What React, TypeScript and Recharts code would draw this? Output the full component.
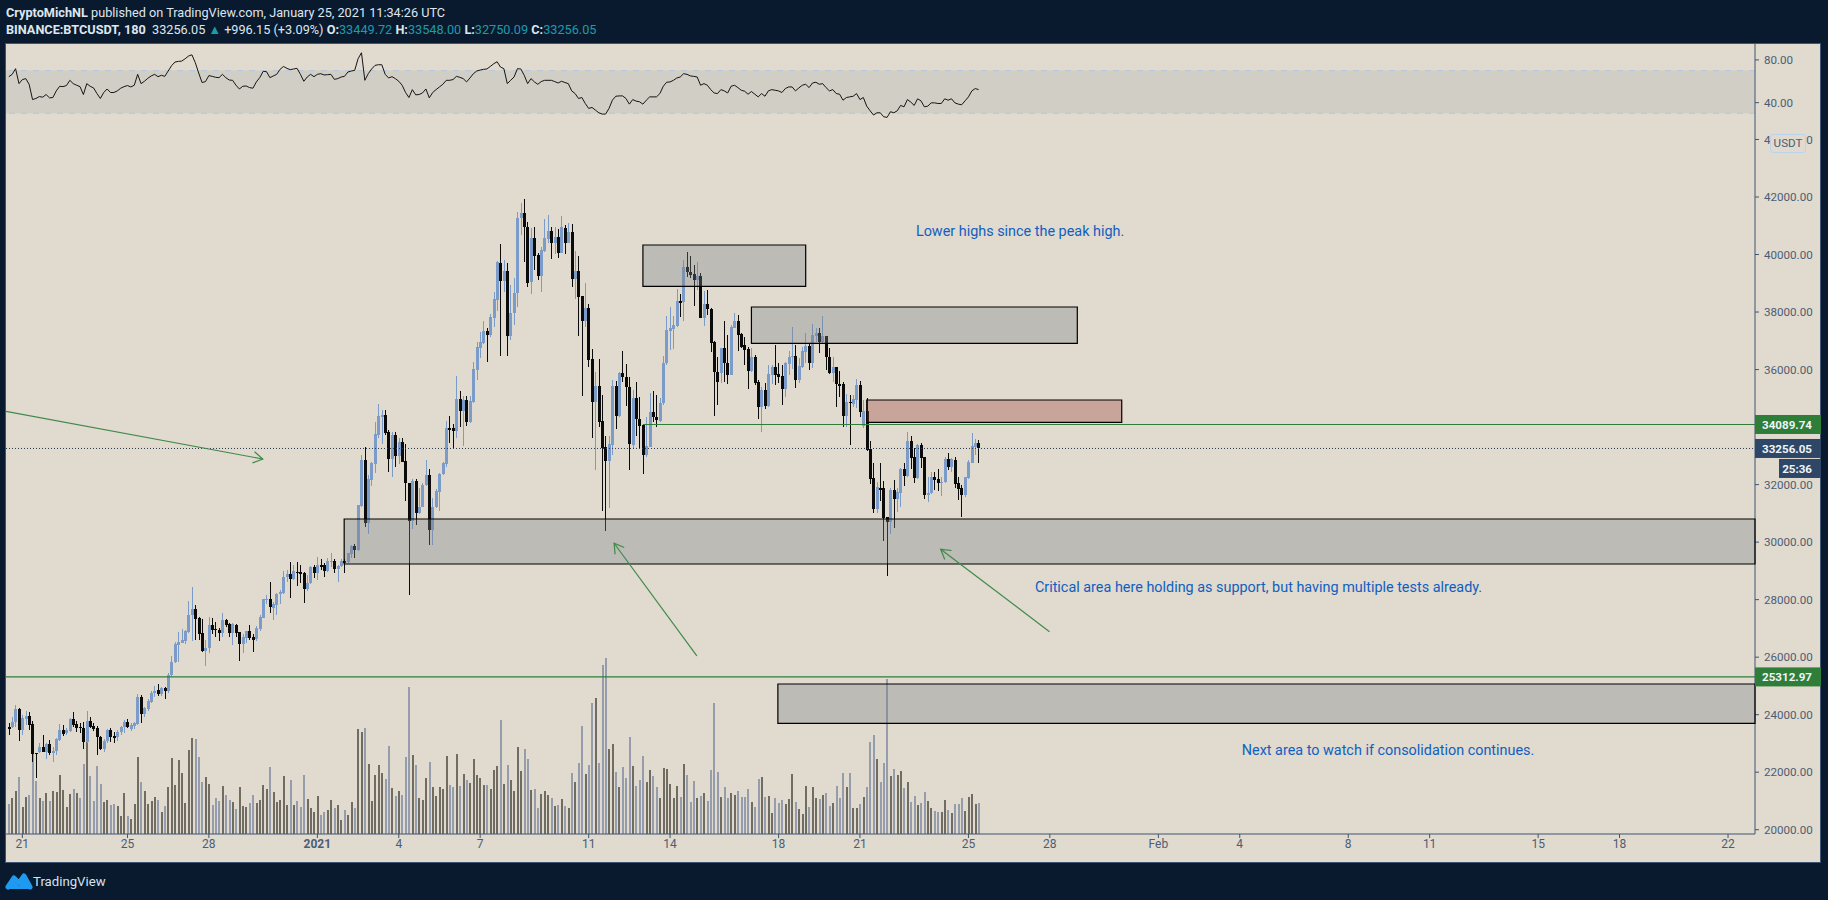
import React from 'react';
import { ComposedChart, Bar, Line, XAxis, YAxis, ReferenceArea, ReferenceLine, ReferenceDot } from 'recharts';

// --- OHLC, 3h candles ---
const opens = [
  23570,23560,23746,24210,23467,23862,23954,23676,22680,22714,
  22876,22714,22981,22656,22737,23120,23467,23352,23444,23850,
  23676,23584,23525,23062,23780,23607,23549,23236,22818,23085,
  23467,23250,23236,23386,23560,23734,23514,23607,23676,24627,
  24024,24186,24453,24742,24858,24719,24916,24835,25380,25832,
  26423,26504,26562,26887,27466,27663,27350,26829,26203,26307,
  27118,26980,26945,26840,27292,27153,26840,27130,26875,26458,
  26667,26910,26713,26631,26988,27376,27995,28027,27717,27810,
  28183,28229,28799,28892,28717,28973,28950,28915,28384,28567,
  29135,28938,29204,29204,28995,29319,29343,29065,29170,29343,
  29320,29587,29865,29726,31256,32855,30676,32160,32716,33724,
  34339,34420,33829,32901,33724,33006,33481,32820,32044,30746,
  32125,31024,31233,31986,32322,30421,31210,31754,32369,32716,
  33956,33968,33875,34964,34559,34941,34188,34884,35984,36749,
  36923,37340,37201,37804,38418,39716,39091,39427,37178,37955,
  38650,41258,41432,40968,39056,40562,39983,39253,40134,40539,
  40806,40389,40597,40064,40933,40412,40771,39160,39427,38557,
  37700,38140,36367,34883,35428,34211,33296,32832,33377,35428,
  34385,35880,35752,35405,33377,34999,34269,34072,33029,33319,
  34513,34362,34223,34825,36216,37352,37410,37526,38383,38360,
  39554,39403,39311,39114,39253,37804,38279,38094,36958,35926,
  35891,36738,36216,35822,37456,37688,37225,36854,36715,35962,
  36426,35556,34710,35290,34733,35823,36078,35846,35777,35324,
  36194,36426,36472,35637,36101,36623,36820,36217,37167,37260,
  36947,37167,36425,35893,36078,35487,35487,34397,34873,34803,
  34942,35464,34030,34559,33238,32218,31152,31894,31871,30863,
  30711,31813,31500,31720,32543,32299,33516,32949,32218,33377,
  32949,31639,31697,32265,32183,32068,32102,32879,32624,32856,
  32044,31894,31639,32230,32763,33320,33449.72,
];
const highs = [
  23700,23930,24337,24244,23989,24140,24082,23769,22680,23004,
  23294,23027,23120,22888,23178,23665,23641,23525,23885,24082,
  23792,23700,23757,24128,23931,23700,23607,23259,23143,23502,
  23525,23410,23467,23607,23815,23850,23700,23746,24708,24685,
  24279,24534,24835,24997,25055,24974,24951,25461,26052,26516,
  26875,26968,26945,27953,28428,27802,27408,27327,26597,27408,
  27350,27211,27002,27524,27327,27176,27176,27153,26887,26805,
  26921,27118,26805,27097,27453,28027,28152,28617,27919,28229,
  28338,29005,29030,29297,29204,29297,29204,28973,28857,29170,
  29204,29471,29413,29262,29436,29633,29413,29204,29401,29401,
  29633,29900,29934,31290,33029,33296,32334,32798,34188,34802,
  34594,34594,33898,33817,33840,33608,33608,33411,32067,32183,
  32183,31893,32044,32855,32531,31522,31835,32391,32798,34211,
  34385,34095,35776,35254,35080,35080,35080,36274,36970,37317,
  37700,37456,37931,38708,39774,40354,39809,39693,38940,39172,
  41490,41803,41918,41142,40910,40945,40041,40273,41223,41374,
  40968,40968,40875,41339,41026,41084,41049,40122,39948,38557,
  39000,38279,36703,35903,36367,35115,33690,33690,35637,35614,
  35926,36645,36181,35753,35289,35556,35034,34095,34362,35173,
  35254,35115,35000,36483,37862,38186,37862,38789,38627,39809,
  40099,39960,39635,39751,39346,38743,38766,38128,37005,36448,
  36749,37688,37201,37549,37955,37897,37260,37143,36796,36738,
  36507,35637,35382,35545,36159,36159,36854,36217,36159,36275,
  36646,37469,36854,36391,36797,37283,36912,37585,37434,37434,
  37863,37167,36738,36425,36078,35950,35580,35139,35116,35116,
  35661,35603,34942,35000,33517,32763,32102,32740,32137,30885,
  31871,32160,31871,32566,32763,33841,33690,33261,33412,33459,
  32949,32276,32450,32450,32543,32276,32972,33088,32914,32948,
  32276,31987,32276,32856,33806,33575,33548,
];
const lows = [
  23290,23525,23560,23096,23294,23641,23467,22366,21810,22656,
  22714,22448,22598,22366,22598,23096,23259,23294,23410,23560,
  23386,23352,22818,23004,23525,23444,22598,22772,22714,23004,
  23062,23004,23096,23294,23375,23525,23444,23491,23641,23700,
  23908,24140,24418,24627,24650,24650,24557,24742,25322,25786,
  25843,26481,26446,26852,26574,26597,26597,26191,25693,26133,
  26805,26713,26562,26713,27060,26713,26423,26713,25878,26156,
  26481,26597,26191,26569,26910,27345,27841,27531,27298,27453,
  27841,28183,28625,28074,28683,28462,28590,27872,28307,28544,
  28741,28683,29030,28799,28973,29146,28915,28625,29123,28938,
  29285,29459,29459,29703,31233,30537,30282,31951,32391,33608,
  33411,33724,32449,32252,32600,32716,32797,31441,28150,30445,
  30595,30978,31210,31951,29900,29900,31175,31094,32334,32600,
  33434,33261,33608,33991,33342,34037,34153,34826,35637,36413,
  36888,36274,37143,37491,38036,36483,38708,36483,37027,37549,
  38186,40678,39751,38882,38627,39461,39114,38708,40099,40389,
  39844,40018,39890,40041,40018,40389,38882,38441,37167,35092,
  37491,36100,33608,32508,34014,31093,30398,31175,33029,33921,
  34362,35567,34733,32508,33261,33690,33261,32368,32971,33295,
  34188,34014,34188,34767,36158,36680,36703,37491,37839,37700,
  39206,39172,38221,38766,37781,37514,37897,36622,34385,34767,
  35544,35579,35498,35799,37433,36657,36738,36158,35324,35927,
  35463,34270,33841,34617,34710,35498,35463,35545,34768,35058,
  35811,36008,35348,35522,36043,36217,35985,36043,36970,36588,
  36912,35985,35846,35579,34710,35058,33992,34015,33377,34687,
  34652,34362,33957,33180,32010,31002,31025,31430,30051,28822,
  30283,30503,31060,31233,31952,32276,32543,32045,32195,32589,
  31500,31384,31674,31813,31790,31616,32068,32508,32450,31871,
  31465,30874,31581,32207,32740,33030,32750.09,
];
const closes = [
  23550,23746,24198,23467,23885,23954,23641,22633,22656,22876,
  22714,22981,22656,22737,23155,23456,23328,23467,23862,23641,
  23525,23525,23062,23780,23584,23491,23236,22818,23085,23467,
  23236,23235,23410,23584,23734,23584,23641,23711,24603,24024,
  24232,24487,24742,24835,24719,24916,24835,25380,25832,26458,
  26516,26597,26910,27466,27663,27339,26805,26203,26319,27118,
  26945,26956,26852,27292,27130,26840,27142,26852,26469,26690,
  26898,26655,26597,27019,27406,28027,28027,27733,27841,28183,
  28276,28803,28892,28717,28995,28938,28915,28384,28567,29135,
  28938,29204,29170,28995,29343,29354,29065,29181,29343,29320,
  29610,29865,29726,31290,32855,30676,32194,32739,33759,34385,
  34420,33806,32901,33724,33006,33492,32797,32044,30746,32125,
  31024,31233,31986,32322,30421,31210,31777,32369,32739,33956,
  33933,33875,34964,34559,34941,34188,34895,36008,36772,36946,
  37340,37201,37839,38441,39751,39091,39438,37178,37955,38650,
  41258,41432,40968,39021,40562,39960,39253,40157,40562,40806,
  40389,40597,40064,40945,40412,40794,39160,39427,38534,37700,
  38140,36332,34883,35428,34188,33261,32832,33411,35428,34397,
  35868,35752,35405,33411,34999,34269,34037,33029,33342,34513,
  34362,34246,34825,36216,37375,37433,37549,38383,38360,39554,
  39403,39288,39114,39253,37804,38279,38094,36935,35926,35579,
  36738,36216,35822,37491,37688,37201,36796,36680,35961,36449,
  35545,34710,35290,34733,35846,36078,35811,35730,35324,36217,
  36449,36472,35637,36124,36646,36820,36217,37202,37260,36947,
  37167,36425,35869,36078,35487,35464,34397,34861,34849,34977,
  35464,34536,34570,33204,32195,31152,31929,31813,30828,30711,
  31813,31500,31755,32543,32299,33516,32937,32242,33377,32937,
  31639,31720,32276,32160,32068,32102,32891,32613,32879,32021,
  31848,31639,32253,32775,33343,33435,33256.05,
];
const volumes = [
  91,109,130,172,82,112,118,243,160,109,
  100,124,98,130,127,178,131,82,121,136,
  124,109,211,283,173,100,203,151,97,103,
  88,91,85,55,124,55,46,91,232,157,
  130,91,100,112,103,67,85,142,229,146,
  223,183,94,253,289,286,232,157,172,151,
  88,109,100,145,118,103,97,76,142,85,
  82,94,118,94,103,148,136,202,127,97,
  103,175,88,163,88,100,82,178,106,79,
  67,115,58,67,73,103,79,88,43,73,
  58,97,79,316,307,319,211,100,178,208,
  184,166,265,139,115,130,118,232,442,238,
  208,109,103,169,217,142,115,142,136,235,
  148,142,241,145,181,163,154,226,178,169,
  148,148,136,193,205,343,151,208,163,130,
  262,190,256,226,133,136,79,121,130,118,
  109,85,88,106,85,79,184,157,214,325,
  181,208,394,409,214,508,529,256,271,187,
  142,202,169,292,205,145,163,235,157,193,
  175,142,109,199,196,151,109,145,112,211,
  178,97,160,109,115,124,100,193,394,187,
  112,142,109,124,118,130,112,112,136,97,
  82,166,172,112,115,64,109,94,103,91,
  106,181,97,76,61,145,82,142,109,106,
  118,124,85,94,145,109,184,142,184,79,
  79,91,112,142,277,298,226,157,214,466,
  175,196,178,190,139,157,97,115,88,94,
  127,100,79,70,67,67,103,73,64,91,
  91,109,70,112,121,91,94,
];
// 1 = lighter bar, 0 = dark bar
const volumeLight = [
  1,0,0,1,0,0,1,1,1,0, 1,0,1,0,0,0,0,0,0,1,
  0,1,1,0,1,1,1,1,0,0, 1,1,0,0,0,1,0,0,0,1,
  0,0,0,0,1,0,1,0,0,0, 0,0,0,0,0,1,1,1,0,0,
  1,1,1,0,1,1,0,1,0,0, 0,1,1,0,0,0,0,1,0,0,
  0,0,0,1,0,1,1,1,0,0, 0,0,1,1,0,0,1,0,0,1,
  0,0,1,0,0,1,0,0,0,0, 0,1,1,0,1,0,1,1,1,0,
  1,0,0,0,1,0,0,0,0,0, 1,1,0,1,0,1,0,0,0,0,
  0,1,0,0,0,1,0,1,0,0, 0,0,1,1,0,1,1,0,0,0,
  1,0,1,0,1,0,1,0,1,1, 0,1,1,0,1,1,1,0,0,1,
  0,1,1,1,0,1,1,1,0,0, 1,1,0,0,0,0,0,0,1,0,
  1,1,1,0,1,0,1,1,1,1, 0,1,1,0,0,1,1,1,1,0,
  1,1,0,1,0,0,1,1,1,0, 0,0,1,0,0,0,1,0,0,1,
  0,1,1,0,1,1,1,0,1,0, 0,1,0,1,1,1,0,1,1,1,
  0,1,0,0,1,0,1,1,0,1, 1,0,0,1,1,0,0,1,0,1,
  1,1,0,0,0,0,1,
];
const rsi = [
  64.3,66.5,71.8,57.8,61.6,62.5,57.2,42.9,43.9,45.7,45.1,47.6,44.5,44.8,51.0,55.3,55.0,56.0,60.9,57.8,
  56.3,55.0,47.6,57.8,55.3,53.8,48.5,43.9,49.5,52.8,49.5,49.5,51.0,53.5,55.0,56.0,54.7,56.3,66.5,57.8,
  60.0,62.8,65.0,66.5,64.3,65.6,64.6,69.6,74.6,78.0,78.6,78.9,81.1,83.6,84.8,77.4,67.7,58.8,59.7,65.3,
  64.6,63.7,63.4,66.5,63.4,61.2,60.9,56.3,52.8,55.3,55.6,54.1,53.5,59.4,63.4,69.3,69.0,63.4,65.0,66.5,
  71.2,73.9,72.1,70.9,71.5,72.1,66.5,60.0,64.0,66.5,64.3,66.5,67.1,65.9,66.2,66.5,61.8,62.5,64.0,64.6,
  68.7,69.6,70.2,81.1,86.7,60.9,67.1,71.5,74.9,75.5,75.5,66.5,63.1,64.3,62.5,60.0,56.3,49.5,44.8,52.2,
  47.3,47.6,49.1,52.8,44.5,49.5,52.2,54.7,57.2,60.9,60.9,61.6,64.6,63.7,62.5,59.4,63.1,67.1,69.6,70.5,
  71.2,71.5,73.9,76.4,78.3,73.3,71.8,57.8,60.9,64.0,71.8,71.5,65.6,57.8,62.5,59.4,57.2,59.7,60.9,60.9,
  60.9,59.7,58.4,60.0,58.8,57.8,51.0,48.5,43.9,44.8,39.2,34.6,35.5,33.0,30.5,29.3,29.3,34.6,42.3,46.0,
  46.3,46.3,43.9,38.6,42.9,41.4,40.8,38.6,42.3,45.4,45.4,45.4,48.5,55.3,59.1,59.4,60.9,63.1,64.0,67.1,
  66.5,65.0,64.6,64.0,56.3,57.8,56.3,52.2,49.1,48.5,52.2,51.0,49.1,55.3,56.3,54.1,51.6,50.7,47.9,50.4,
  47.9,45.4,48.5,46.0,51.0,52.2,51.6,51.0,49.5,53.2,54.7,54.7,51.0,53.8,56.3,57.2,54.1,58.4,59.1,57.2,
  57.8,54.1,51.0,52.2,48.5,47.9,42.3,44.8,45.4,46.0,48.5,42.9,44.8,36.7,32.4,28.4,30.5,30.5,26.8,26.2,
  31.5,30.5,32.4,37.4,36.1,42.9,40.5,37.4,43.6,41.7,36.1,36.7,39.8,39.8,39.2,39.2,43.6,42.3,43.6,39.8,
  38.6,38.0,41.7,45.4,51.0,53.2,52.2,
];

// the 34000 label is hidden behind the level badge in the original, so it is left out
const priceTicks = [20000,22000,24000,26000,28000,30000,32000,36000,38000,40000,42000,44000];
const rsiTicks = [40, 80];
const timeTicks = [4,35,59,91,115,139,171,195,227,251,283,307,339,363,395,419,451,475,507];
const timeLabels = ['21','25','28','2021','4','7','11','14','18','21','25','28','Feb','4','8','11','15','18','22'];

const LAST_PRICE = 33256.05;
const LEVEL_HIGH = 34089.74;
const LEVEL_LOW = 25312.97;

const X_DOMAIN: [number, number] = [-0.826, 514.95];
const PRICE_DOMAIN: [number, number] = [19851, 44434];
const VOLUME_DOMAIN: [number, number] = [0, 2121];
const RSI_DOMAIN: [number, number] = [17.2, 94.9];

const candles = opens.map((o, i) => ({
  i,
  open: o,
  high: highs[i],
  low: lows[i],
  close: closes[i],
  range: [lows[i], highs[i]],
  volume: volumes[i],
  light: volumeLight[i],
  rsi: rsi[i],
}));

const FONT = 'Roboto, sans-serif';
const NAVY = '#0a1a2e';
const PAPER = '#e0dacf';
const AXIS = '#3f5572';
const TICK = '#4d5d74';
const GREEN = '#2e7d38';
const NOTE = '#1060c0';

const CandleShape = (props: any) => {
  const { x, y, width, height, payload } = props;
  const span = payload.high - payload.low || 1;
  const top = Math.max(payload.open, payload.close);
  const bottom = Math.min(payload.open, payload.close);
  const up = payload.close >= payload.open;
  const color = up ? '#7b9cc9' : '#0b0b0b';
  const cx = Math.round(x + width / 2);
  const bodyTop = y + ((payload.high - top) / span) * height;
  const bodyH = Math.max(((top - bottom) / span) * height, 1.5);
  return (
    <g shapeRendering="crispEdges">
      <rect x={cx} y={y} width={1} height={height} fill={color} />
      <rect x={cx - 1} y={bodyTop} width={3} height={bodyH} fill={color} />
    </g>
  );
};

const VolumeShape = (props: any) => {
  const { x, y, width, height, payload } = props;
  return (
    <rect
      x={Math.round(x)}
      y={y}
      width={width}
      height={height}
      shapeRendering="crispEdges"
      fill={payload.light ? '#959cab' : '#716c62'}
    />
  );
};

const TimeTick = (props: any) => {
  const { x, y, payload } = props;
  const label = timeLabels[timeTicks.indexOf(payload.value)];
  return (
    <text x={x} y={y + 8} textAnchor="middle" fontFamily={FONT} fontSize={12} fill={TICK} fontWeight={label === '2021' ? 700 : 400}>
      {label}
    </text>
  );
};

// open arrow: shaft plus two short strokes at the second end
const ArrowShape = (props: any) => {
  const { x1, y1, x2, y2 } = props;
  const a = Math.atan2(y2 - y1, x2 - x1);
  const len = 11;
  const head = `M${x2 + len * Math.cos(a + 2.6)},${y2 + len * Math.sin(a + 2.6)} L${x2},${y2} L${x2 + len * Math.cos(a - 2.6)},${y2 + len * Math.sin(a - 2.6)}`;
  return (
    <g fill="none" stroke="#3f8a4a" strokeWidth={1.2}>
      <line x1={x1} y1={y1} x2={x2} y2={y2} />
      <path d={head} />
    </g>
  );
};

const Badge = ({ x, y, w, fill, text }: any) => (
  <g>
    <rect x={x} y={y - 9.5} width={w} height={19} fill={fill} />
    <text x={x + w - 9} y={y + 4.5} textAnchor="end" fontFamily={FONT} fontSize={11.6} fontWeight={700} fill="#eef4f8">
      {text}
    </text>
  </g>
);

const LevelShape = (props: any) => {
  const { x1, y1, x2, y2, text } = props;
  return (
    <g>
      <line x1={x1} y1={y1} x2={x2} y2={y2} stroke={GREEN} strokeWidth={1.2} />
      <Badge x={x2} y={y2} w={66} fill={GREEN} text={text} />
    </g>
  );
};

const LastPriceShape = (props: any) => {
  const { x1, y1, x2, y2 } = props;
  return (
    <g>
      <line x1={x1} y1={y1} x2={x2} y2={y2} stroke="#2a3a50" strokeWidth={1} strokeDasharray="1 2" />
      <Badge x={x2} y={y2} w={66} fill="#2f4767" text={LAST_PRICE.toFixed(2)} />
      <Badge x={x2 + 24} y={y2 + 20} w={42} fill="#2f4767" text="25:36" />
    </g>
  );
};

const Note = ({ x, y, text }: any) => (
  <ReferenceDot
    x={x}
    y={y}
    r={0}
    fill="none"
    stroke="none"
    ifOverflow="visible"
    label={{ value: text, position: 'right', offset: 0, fill: NOTE, fontSize: 14.4, fontFamily: FONT }}
  />
);

const Box = ({ x1, x2, y1, y2, fill }: any) => (
  <ReferenceArea x1={x1} x2={x2} y1={y1} y2={y2} fill={fill} fillOpacity={0.34} stroke="#000" strokeWidth={1.2} strokeOpacity={1} ifOverflow="visible" />
);

const App = () => {
  return (
    <div style={{ position: 'fixed', left: 0, top: 0, width: 1828, height: 900, background: NAVY, overflow: 'hidden', fontFamily: FONT }}>
      <div style={{ position: 'absolute', left: 6, top: 5, fontSize: 12.7, color: '#dfe6ee', whiteSpace: 'nowrap' }}>
        <b>CryptoMichNL</b> published on TradingView.com, January 25, 2021 11:34:26 UTC
      </div>
      <div style={{ position: 'absolute', left: 6, top: 22, fontSize: 12.7, color: '#dfe6ee', whiteSpace: 'nowrap' }}>
        <b>BINANCE:BTCUSDT, 180</b>&nbsp; 33256.05 <span style={{ color: '#1e9bab' }}>▲</span> +996.15 (+3.09%) <b>O:</b>
        <span style={{ color: '#1e9bab' }}>33449.72</span> <b>H:</b>
        <span style={{ color: '#1e9bab' }}>33548.00</span> <b>L:</b>
        <span style={{ color: '#1e9bab' }}>32750.09</span> <b>C:</b>
        <span style={{ color: '#1e9bab' }}>33256.05</span>
      </div>

      <div style={{ position: 'absolute', left: 5, top: 43, width: 1816, height: 820, background: PAPER, border: `1px solid ${AXIS}`, boxSizing: 'border-box' }} />

      {/* RSI pane */}
      <div style={{ position: 'absolute', left: 6, top: 44 }}>
        <ComposedChart width={1815} height={83} data={candles} margin={{ top: 0, right: 0, bottom: 0, left: 0 }}>
          <XAxis dataKey="i" type="number" domain={X_DOMAIN} hide allowDataOverflow />
          <YAxis
            orientation="right"
            width={66}
            domain={RSI_DOMAIN}
            ticks={rsiTicks}
            allowDataOverflow
            tickFormatter={(v: number) => v.toFixed(2)}
            tick={{ fill: TICK, fontSize: 11.6, fontFamily: FONT }}
            tickSize={4}
            tickMargin={5}
            stroke={AXIS}
          />
          <ReferenceArea y1={30} y2={70} fill="#78878f" fillOpacity={0.14} stroke="none" />
          <ReferenceLine y={70} stroke="#b3c8e0" strokeDasharray="6 6" />
          <ReferenceLine y={30} stroke="#b3c8e0" strokeDasharray="6 6" />
          <Line dataKey="rsi" stroke="#151515" strokeWidth={1} dot={false} isAnimationActive={false} />
        </ComposedChart>
      </div>

      {/* price pane */}
      <div style={{ position: 'absolute', left: 6, top: 127 }}>
        <ComposedChart width={1815} height={736} data={candles} margin={{ top: 0, right: 0, bottom: 0, left: 0 }}>
          <XAxis
            dataKey="i"
            type="number"
            domain={X_DOMAIN}
            ticks={timeTicks}
            interval={0}
            allowDataOverflow
            height={29}
            tick={<TimeTick />}
            tickSize={4}
            stroke={AXIS}
          />
          <XAxis xAxisId="vol" dataKey="i" type="number" domain={X_DOMAIN} hide allowDataOverflow />
          <YAxis
            orientation="right"
            width={66}
            domain={PRICE_DOMAIN}
            ticks={priceTicks}
            interval={0}
            allowDataOverflow
            tickFormatter={(v: number) => v.toFixed(2)}
            tick={{ fill: TICK, fontSize: 11.6, fontFamily: FONT }}
            tickSize={4}
            tickMargin={5}
            stroke={AXIS}
          />
          <YAxis yAxisId="vol" hide domain={VOLUME_DOMAIN} allowDataOverflow />
          <Bar xAxisId="vol" yAxisId="vol" dataKey="volume" barSize={2} shape={<VolumeShape />} isAnimationActive={false} />
          <Bar dataKey="range" barSize={3} shape={<CandleShape />} isAnimationActive={false} />
        </ComposedChart>
      </div>

      {/* drawings sit above the candles */}
      <div style={{ position: 'absolute', left: 6, top: 127, pointerEvents: 'none' }}>
        <ComposedChart width={1815} height={736} data={candles} margin={{ top: 0, right: 66, bottom: 29, left: 0 }}>
          <XAxis dataKey="i" type="number" domain={X_DOMAIN} hide allowDataOverflow />
          <YAxis hide domain={PRICE_DOMAIN} allowDataOverflow />
          {Box({ x1: 187, x2: 235, y1: 38895, y2: 40331, fill: '#7a8084' })}
          {Box({ x1: 219, x2: 315.1, y1: 36913, y2: 38175, fill: '#7a8084' })}
          {Box({ x1: 253, x2: 328.2, y1: 34166, y2: 34942, fill: '#9c3e36' })}
          {Box({ x1: 98.9, x2: X_DOMAIN[1], y1: 29240, y2: 30804, fill: '#7a8084' })}
          {Box({ x1: 226.8, x2: X_DOMAIN[1], y1: 23700, y2: 25067, fill: '#7a8084' })}
          <ReferenceLine
            segment={[{ x: X_DOMAIN[0], y: LAST_PRICE }, { x: X_DOMAIN[1], y: LAST_PRICE }]}
            ifOverflow="visible"
            shape={<LastPriceShape />}
          />
          <ReferenceLine
            segment={[{ x: 187, y: LEVEL_HIGH }, { x: X_DOMAIN[1], y: LEVEL_HIGH }]}
            ifOverflow="visible"
            shape={<LevelShape text={LEVEL_HIGH.toFixed(2)} />}
          />
          <ReferenceLine
            segment={[{ x: X_DOMAIN[0], y: LEVEL_LOW }, { x: X_DOMAIN[1], y: LEVEL_LOW }]}
            ifOverflow="visible"
            shape={<LevelShape text={LEVEL_LOW.toFixed(2)} />}
          />
          <ReferenceLine segment={[{ x: X_DOMAIN[0], y: 34545 }, { x: 74.9, y: 32890 }]} ifOverflow="visible" shape={<ArrowShape />} />
          <ReferenceLine segment={[{ x: 202.9, y: 26041 }, { x: 178.5, y: 29960 }]} ifOverflow="visible" shape={<ArrowShape />} />
          <ReferenceLine segment={[{ x: 306.9, y: 26886 }, { x: 274.8, y: 29750 }]} ifOverflow="visible" shape={<ArrowShape />} />
          {Note({ x: 267.5, y: 40818, text: 'Lower highs since the peak high.' })}
          {Note({ x: 302.6, y: 28450, text: 'Critical area here holding as support, but having multiple tests already.' })}
          {Note({ x: 363.6, y: 22760, text: 'Next area to watch if consolidation continues.' })}
        </ComposedChart>
      </div>

      <div style={{ position: 'absolute', left: 1770, top: 134, width: 36, height: 19, boxSizing: 'border-box', background: PAPER, border: '1px solid #bcd3ee', borderRadius: 3, fontSize: 11.6, lineHeight: '17px', textAlign: 'center', color: TICK }}>
        USDT
      </div>

      <svg style={{ position: 'absolute', left: 5, top: 873 }} width={28} height={17} viewBox="0 0 28 17">
        <path d="M3 14 L9 5 L14 10 L19 3 L25 14" fill="none" stroke="#1e9bf0" strokeWidth={5} strokeLinejoin="round" strokeLinecap="round" />
        <path d="M1 16 L9 8 L14 13 L19 6 L27 16 Z" fill="#1e9bf0" />
      </svg>
      <div style={{ position: 'absolute', left: 33, top: 874, fontSize: 13.2, color: '#d6e2ee' }}>TradingView</div>
    </div>
  );
};

export default App;
